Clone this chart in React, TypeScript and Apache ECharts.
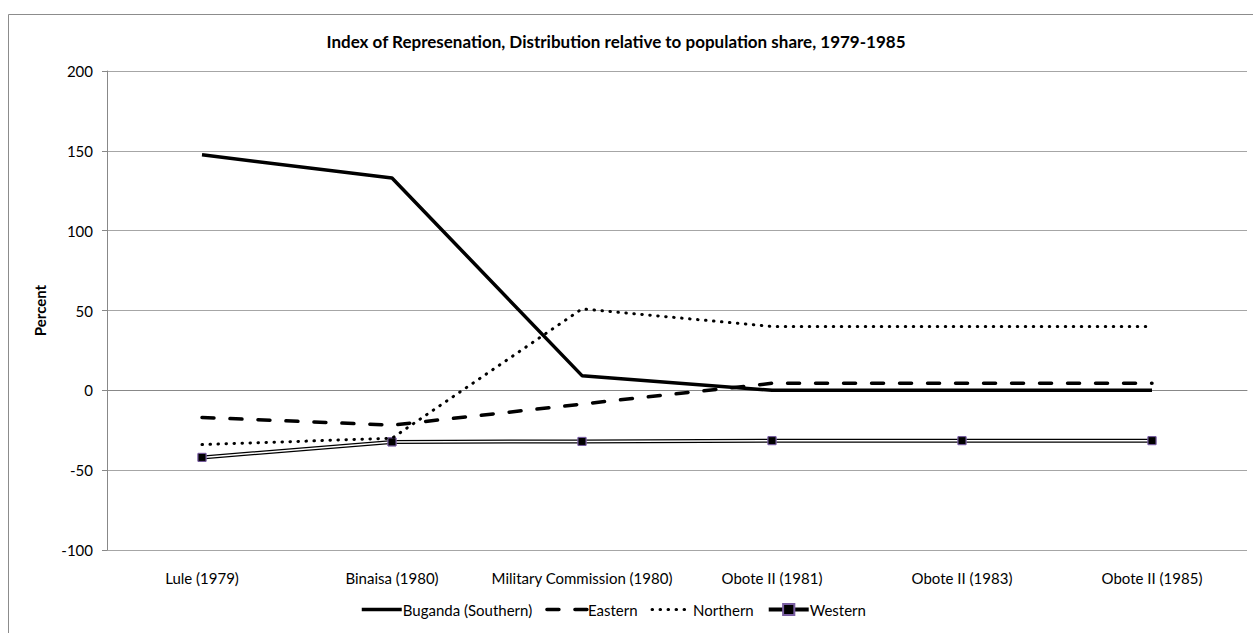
import React, { useEffect, useRef } from "react";
import * as echarts from "echarts";

const categories = [
  "Lule (1979)",
  "Binaisa (1980)",
  "Military Commission (1980)",
  "Obote II (1981)",
  "Obote II (1983)",
  "Obote II (1985)",
];
const buganda = [147.5, 133, 9.2, 0, 0, 0];
const eastern = [-17, -21.8, -8.6, 4.4, 4.4, 4.4];
const northern = [-34, -30, 51, 40, 40, 40];
const western = [-42, -32.3, -32, -31.5, -31.5, -31.5];
const yTicks = { min: -100, max: 200, interval: 50 };

const FONT = "Lato, 'Open Sans', sans-serif";

export default function App() {
  const ref = useRef<HTMLDivElement>(null);
  useEffect(() => {
    if (!ref.current) return;
    const chart = echarts.init(ref.current, null, { renderer: "svg" });
    const westernSymbol = {
      symbol: "rect",
      symbolSize: 8,
      itemStyle: { color: "#000", borderColor: "#7a5fa3", borderWidth: 1 },
    };
    const hideSym = { itemStyle: { opacity: 0 } };
    chart.setOption({
      animation: false,
      backgroundColor: "#fff",
      textStyle: { fontFamily: FONT },
      title: {
        text: "Index of Represenation, Distribution relative to population share, 1979-1985",
        left: 611,
        top: 28,
        textAlign: "center",
        textStyle: { fontFamily: FONT, fontSize: 17, fontWeight: "bold", color: "#000" },
      },
      graphic: [
        {
          type: "rect",
          shape: { x: 8.5, y: 14.5, width: 1300, height: 700 },
          style: { fill: "none", stroke: "#8c8c8c", lineWidth: 1 },
          silent: true,
          z: -1,
        },
      ],
      legend: {
        left: 355,
        top: 597,
        itemWidth: 40,
        itemHeight: 14,
        itemGap: 13,
        data: [
          { name: "Buganda (Southern)", ...hideSym, lineStyle: { width: 3.5 } },
          { name: "Eastern", ...hideSym, lineStyle: { width: 3.5 } },
          { name: "Northern", ...hideSym, lineStyle: { width: 3 } },
          { name: "Western", lineStyle: { width: 4 } },
        ],
        textStyle: { fontFamily: FONT, fontSize: 15, color: "#000", padding: [0, 0, 0, -4] },
      },
      grid: { left: 107, right: 6, top: 71, bottom: 83 },
      xAxis: {
        type: "category",
        data: categories,
        boundaryGap: true,
        axisLine: { lineStyle: { color: "#888", width: 1 } },
        axisTick: { show: false },
        axisLabel: { fontFamily: FONT, fontSize: 15, color: "#000", margin: 20, interval: 0 },
      },
      yAxis: {
        type: "value",
        min: yTicks.min,
        max: yTicks.max,
        interval: yTicks.interval,
        name: "Percent",
        nameLocation: "middle",
        nameGap: 60,
        nameTextStyle: { fontFamily: FONT, fontSize: 15, fontWeight: "bold", color: "#000" },
        axisLine: { show: true, lineStyle: { color: "#888", width: 1 } },
        axisTick: { show: true, length: 5, lineStyle: { color: "#888" } },
        splitLine: { lineStyle: { color: "#a6a6a6", width: 1 } },
        axisLabel: { fontFamily: FONT, fontSize: 15, color: "#000", margin: 14 },
      },
      series: [
        {
          name: "Buganda (Southern)",
          type: "line",
          data: buganda,
          symbol: "none",
          lineStyle: { color: "#000", width: 3.5 },
          itemStyle: { color: "#000" },
          z: 5,
        },
        {
          name: "Eastern",
          type: "line",
          data: eastern,
          symbol: "none",
          lineStyle: { color: "#000", width: 3.5, type: [12, 16], cap: "round" },
          itemStyle: { color: "#000" },
          z: 4,
        },
        {
          name: "Northern",
          type: "line",
          data: northern,
          symbol: "none",
          lineStyle: { color: "#000", width: 3, type: [0.5, 7.5], cap: "round" },
          itemStyle: { color: "#000" },
          z: 3,
        },
        {
          name: "Western",
          type: "line",
          data: western,
          ...westernSymbol,
          showSymbol: true,
          lineStyle: { color: "#000", width: 4 },
          z: 2,
        },
        {
          name: "Western inner",
          type: "line",
          data: western,
          ...westernSymbol,
          showSymbol: true,
          lineStyle: { color: "#fff", width: 1.5 },
          z: 2,
        },
      ],
    });
    return () => chart.dispose();
  }, []);
  return (
    <div
      ref={ref}
      style={{ position: "fixed", left: 0, top: 0, width: 1253, height: 633, background: "#fff" }}
    />
  );
}
